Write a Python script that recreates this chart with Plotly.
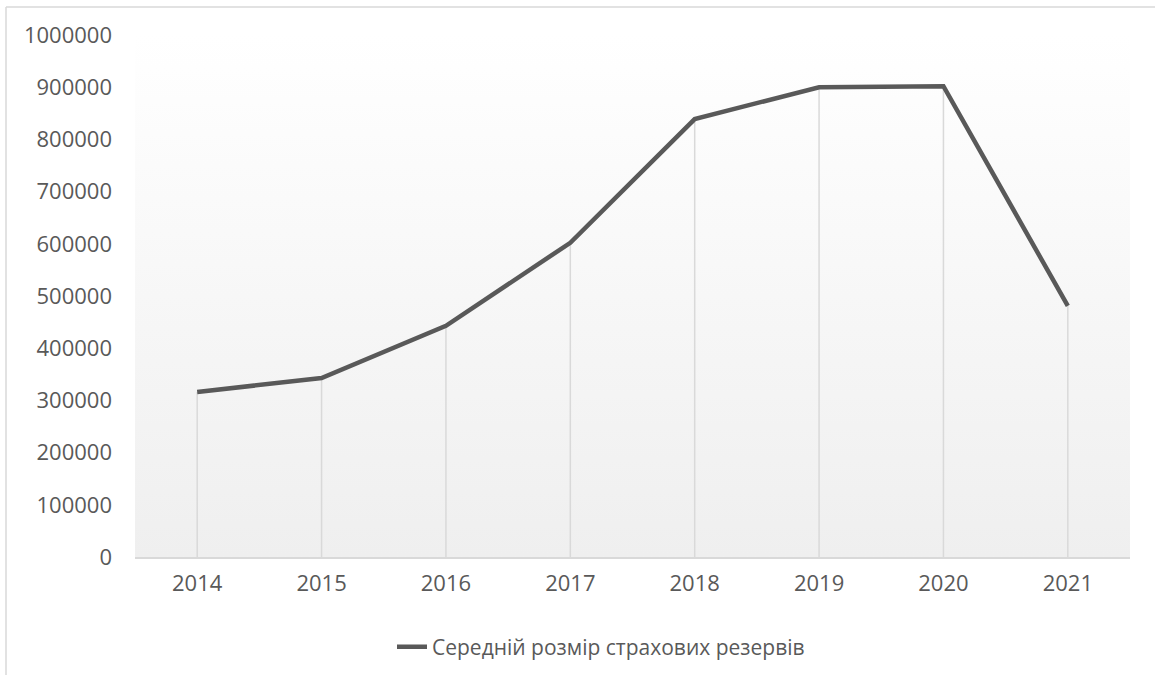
import base64
import plotly.graph_objects as go

# Average size of insurance reserves by year
years = ["2014", "2015", "2016", "2017", "2018", "2019", "2020", "2021"]
reserves = [316000, 343000, 443000, 602000, 839000, 900000, 902000, 481000]
y_ticks = [0, 100000, 200000, 300000, 400000, 500000, 600000, 700000, 800000, 900000, 1000000]
series_name = "Середній розмір страхових резервів"

W, H = 1155, 675
L, R, T, B = 135, 25, 35, 118
plot_w = W - L - R
plot_h = H - T - B

# vertical gradient for the plot area background
svg = (
    '<svg xmlns="http://www.w3.org/2000/svg" width="100" height="100" preserveAspectRatio="none">'
    '<defs><linearGradient id="g" x1="0" y1="0" x2="0" y2="1">'
    '<stop offset="0" stop-color="#ffffff"/><stop offset="1" stop-color="#efefef"/>'
    '</linearGradient></defs><rect width="100" height="100" fill="url(#g)"/></svg>'
)
bg_src = "data:image/svg+xml;base64," + base64.b64encode(svg.encode()).decode()

# drop lines from each point down to the axis
drop_x, drop_y = [], []
for yr, v in zip(years, reserves):
    drop_x += [yr, yr, None]
    drop_y += [0, v, None]

fig = go.Figure()
fig.add_trace(go.Scatter(
    x=drop_x, y=drop_y, mode="lines",
    line=dict(color="#d9d9d9", width=1.5),
    showlegend=False, hoverinfo="skip",
))
fig.add_trace(go.Scatter(
    x=years, y=reserves, mode="lines", name=series_name,
    line=dict(color="#595959", width=4.5),
))

font_family = "Open Sans, Noto Sans, sans-serif"
fs = 22

fig.update_layout(
    width=W, height=H,
    margin=dict(l=L, r=R, t=T, b=B, autoexpand=False),
    paper_bgcolor="white",
    plot_bgcolor="rgba(0,0,0,0)",
    font=dict(family=font_family, color="#595959", size=fs),
    showlegend=True,
    legend=dict(
        orientation="h", x=(400 - 135 - 8) / plot_w, xanchor="left",
        y=(557 - 647) / plot_h, yanchor="middle",
        font=dict(size=21, color="#595959"),
    ),
    xaxis=dict(
        type="category", range=[-0.5, len(years) - 0.5],
        showgrid=False, showline=True, linecolor="#d9d9d9", linewidth=1.5,
        ticks="", tickfont=dict(size=fs, color="#595959"),
        zeroline=False, ticklabelstandoff=6,
    ),
    yaxis=dict(
        range=[0, 1000000], tickvals=y_ticks, ticktext=[str(t) for t in y_ticks],
        showgrid=False, showline=False, zeroline=False, ticks="",
        tickfont=dict(size=fs, color="#595959"), ticklabelstandoff=22,
    ),
    images=[dict(
        source=bg_src, xref="paper", yref="paper", x=0, y=1,
        sizex=1, sizey=1, sizing="stretch", layer="below",
        xanchor="left", yanchor="top",
    )],
    shapes=[
        # outer chart frame: left and top edges
        dict(type="line", xref="paper", yref="paper",
             x0=(6 - L) / plot_w, x1=(6 - L) / plot_w,
             y0=(H - 7 - B) / plot_h, y1=(0 - B) / plot_h,
             line=dict(color="#d9d9d9", width=1.5)),
        dict(type="line", xref="paper", yref="paper",
             x0=(6 - L) / plot_w, x1=(W - L) / plot_w,
             y0=(H - 7 - B) / plot_h, y1=(H - 7 - B) / plot_h,
             line=dict(color="#d9d9d9", width=1.5)),
    ],
)

fig.write_html("out.html")
